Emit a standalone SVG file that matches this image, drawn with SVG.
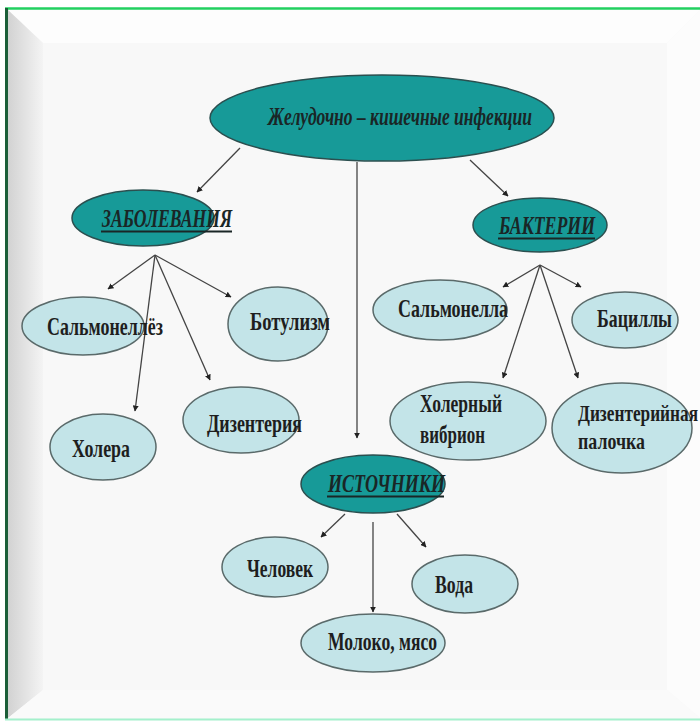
<svg xmlns="http://www.w3.org/2000/svg" width="700" height="722" viewBox="0 0 700 722">
<defs>
<linearGradient id="gl" x1="0" y1="0" x2="1" y2="0">
<stop offset="0" stop-color="#d2d2d2"/><stop offset="1" stop-color="#f4f4f4"/>
</linearGradient>
<marker id="ah" viewBox="0 0 10 10" refX="9" refY="5" markerWidth="6" markerHeight="6" orient="auto" markerUnits="userSpaceOnUse">
<path d="M0,0 L10,5 L0,10 z" fill="#222"/>
</marker>
<style>
.dk{fill:#179a98;stroke:#2b4f4f;stroke-width:1.5}
.lt{fill:#c3e4e8;stroke:#5a6a6a;stroke-width:1.5}
.t{font-family:"Liberation Serif","Times New Roman",serif;font-weight:bold;font-size:26px;fill:#1e1e1e}
.ti{font-style:italic;fill:#1a2626}
.sm{font-size:24px}
.ul{stroke:#1a2626;stroke-width:2.2}
.c line{stroke:#444;stroke-width:1.3;marker-end:url(#ah)}
</style>
</defs>
<rect width="700" height="722" fill="#ffffff"/>
<rect x="8" y="10" width="692" height="709" fill="#f8f8f8"/>
<polygon points="8,10 700,10 667,43 43,43" fill="#fdfdfd"/>
<polygon points="8,10 43,43 43,690 8,718" fill="url(#gl)"/>
<polygon points="700,10 700,718 667,690 667,43" fill="#fcfcfc"/>
<polygon points="8,718 700,718 667,690 43,690" fill="#fafafa"/>
<line x1="5" y1="8.5" x2="700" y2="8.5" stroke="#22d060" stroke-width="2.5"/>
<line x1="6.5" y1="8" x2="6.5" y2="720" stroke="#1b5e38" stroke-width="3"/>
<line x1="5" y1="719.5" x2="700" y2="719.5" stroke="#a4f0cc" stroke-width="2"/>

<g class="c" id="connectors">
<line x1="240" y1="148" x2="197" y2="192"/>
<line x1="470" y1="160" x2="508" y2="196"/>
<line x1="357" y1="162" x2="357" y2="438"/>
<line x1="155" y1="255" x2="108" y2="289"/>
<line x1="155" y1="255" x2="231" y2="297"/>
<line x1="155" y1="255" x2="135" y2="411"/>
<line x1="155" y1="255" x2="210" y2="380"/>
<line x1="540" y1="265" x2="503" y2="287"/>
<line x1="540" y1="265" x2="581" y2="287"/>
<line x1="540" y1="265" x2="503" y2="378"/>
<line x1="540" y1="265" x2="578" y2="378"/>
<line x1="345" y1="514" x2="321" y2="537"/>
<line x1="397" y1="514" x2="426" y2="547"/>
<line x1="373" y1="522" x2="373" y2="612"/>
</g>

<g id="n-main"><ellipse class="dk" cx="382" cy="118" rx="172" ry="43"/>
<text class="t ti" x="268" y="125" textLength="264" lengthAdjust="spacingAndGlyphs">Желудочно – кишечные инфекции</text></g>

<g id="n-zabol"><ellipse class="dk" cx="143" cy="218" rx="71" ry="28"/>
<text class="t ti" x="102" y="227" textLength="130" lengthAdjust="spacingAndGlyphs">ЗАБОЛЕВАНИЯ</text>
<line class="ul" x1="101" y1="231.5" x2="232" y2="231.5"/></g>

<g id="n-bakt"><ellipse class="dk" cx="540" cy="225" rx="67" ry="27"/>
<text class="t ti" x="499" y="234" textLength="96" lengthAdjust="spacingAndGlyphs">БАКТЕРИИ</text>
<line class="ul" x1="498" y1="238.5" x2="595" y2="238.5"/></g>

<g id="n-ist"><ellipse class="dk" cx="373" cy="484" rx="72" ry="29"/>
<text class="t ti" x="328" y="492" textLength="117" lengthAdjust="spacingAndGlyphs">ИСТОЧНИКИ</text>
<line class="ul" x1="327" y1="496.5" x2="444" y2="496.5"/></g>

<g id="n-salmoz"><ellipse class="lt" cx="83" cy="326" rx="61" ry="29"/>
<text class="t" x="47" y="335" textLength="116" lengthAdjust="spacingAndGlyphs">Сальмонеллёз</text></g>

<g id="n-botul"><ellipse class="lt" cx="278" cy="324" rx="50" ry="37"/>
<text class="t" x="250" y="330" textLength="80" lengthAdjust="spacingAndGlyphs">Ботулизм</text></g>

<g id="n-holera"><ellipse class="lt" cx="103" cy="447" rx="53" ry="33"/>
<text class="t" x="72" y="457" textLength="58" lengthAdjust="spacingAndGlyphs">Холера</text></g>

<g id="n-dizent"><ellipse class="lt" cx="241" cy="420" rx="58" ry="33"/>
<text class="t" x="207" y="432" textLength="95" lengthAdjust="spacingAndGlyphs">Дизентерия</text></g>

<g id="n-salmla"><ellipse class="lt" cx="440" cy="310" rx="67" ry="30"/>
<text class="t" x="398" y="317" textLength="110" lengthAdjust="spacingAndGlyphs">Сальмонелла</text></g>

<g id="n-bacil"><ellipse class="lt" cx="625" cy="320" rx="53" ry="28"/>
<text class="t" x="597" y="327" textLength="75" lengthAdjust="spacingAndGlyphs">Бациллы</text></g>

<g id="n-vibrion"><ellipse class="lt" cx="468" cy="421" rx="78" ry="39"/>
<text class="t" x="420" y="412" textLength="82" lengthAdjust="spacingAndGlyphs">Холерный</text>
<text class="t" x="420" y="443" textLength="65" lengthAdjust="spacingAndGlyphs">вибрион</text></g>

<g id="n-palochka"><ellipse class="lt" cx="622" cy="428" rx="70" ry="45"/>
<text class="t sm" x="578" y="421" textLength="120" lengthAdjust="spacingAndGlyphs">Дизентерийная</text>
<text class="t sm" x="578" y="449" textLength="67" lengthAdjust="spacingAndGlyphs">палочка</text></g>

<g id="n-chel"><ellipse class="lt" cx="275" cy="567" rx="53" ry="30"/>
<text class="t" x="247" y="577" textLength="66" lengthAdjust="spacingAndGlyphs">Человек</text></g>

<g id="n-voda"><ellipse class="lt" cx="465" cy="584" rx="53" ry="29"/>
<text class="t" x="435" y="593" textLength="38" lengthAdjust="spacingAndGlyphs">Вода</text></g>

<g id="n-moloko"><ellipse class="lt" cx="373" cy="643" rx="72" ry="29"/>
<text class="t" x="328" y="650" textLength="109" lengthAdjust="spacingAndGlyphs">Молоко, мясо</text></g>
</svg>
